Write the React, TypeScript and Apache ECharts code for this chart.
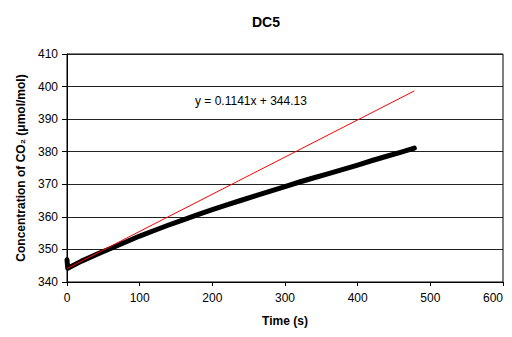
import React, { useEffect, useRef } from "react";
import * as echarts from "echarts";

const timeS = [0, 1, 20, 40, 60, 80, 100, 120, 140, 160, 180, 200, 220, 240, 260, 280, 300, 320, 340, 360, 380, 400, 420, 440, 460, 478];
const co2 = [346.8, 344.2, 346.4, 348.4, 350.3, 352.2, 354.1, 355.8, 357.5, 359.1, 360.7, 362.2, 363.7, 365.1, 366.5, 367.9, 369.3, 370.7, 372.0, 373.3, 374.6, 375.9, 377.3, 378.6, 379.9, 381.1];
const trendX = [0, 478];
const trendY = [344.13, 398.67];
const equationLabel = "y = 0.1141x + 344.13";
const titleText = "DC5";
const xName = "Time (s)";
const yName = "Concentration of CO\u2082 (\u03bcmol/mol)";

export default function App() {
  const ref = useRef<HTMLDivElement>(null);
  useEffect(() => {
    if (!ref.current) return;
    const chart = echarts.init(ref.current, null, { renderer: "svg" });
    const font = "Liberation Sans, Arial, sans-serif";
    chart.setOption({
      animation: false,
      backgroundColor: "#fff",
      textStyle: { fontFamily: font },
      title: {
        text: titleText,
        left: 261,
        top: 10,
        textAlign: "center",
        textStyle: { fontFamily: font, fontSize: 14, fontWeight: "bold", color: "#000" },
      },
      grid: {
        left: 67,
        right: 9,
        top: 54,
        bottom: 55,
        containLabel: false,
        outerBoundsMode: "none",
        show: true,
        borderColor: "#000",
        borderWidth: 1,
        backgroundColor: "#fff",
      },
      xAxis: {
        type: "value",
        min: 0,
        max: 600,
        interval: 100,
        name: xName,
        nameLocation: "middle",
        nameGap: 33,
        nameTextStyle: { fontFamily: font, fontSize: 12, fontWeight: "bold", color: "#000" },
        axisLine: { show: true, lineStyle: { color: "#000", width: 1 } },
        axisTick: { show: true, inside: false, length: 4, lineStyle: { color: "#000" } },
        axisLabel: {
          fontFamily: font,
          fontSize: 12,
          color: "#000",
          margin: 10,
          alignMaxLabel: "right",
        },
        splitLine: { show: false },
      },
      yAxis: {
        type: "value",
        min: 340,
        max: 410,
        interval: 10,
        name: yName,
        nameLocation: "middle",
        nameGap: 40,
        nameTextStyle: { fontFamily: font, fontSize: 12, fontWeight: "bold", color: "#000" },
        axisLine: { show: true, lineStyle: { color: "#000", width: 1 } },
        axisTick: { show: true, inside: false, length: 5, lineStyle: { color: "#000" } },
        axisLabel: { fontFamily: font, fontSize: 12, color: "#000", margin: 9 },
        splitLine: { show: true, lineStyle: { color: "#222", width: 1 } },
      },
      graphic: [
        {
          type: "text",
          left: 195,
          top: 95,
          style: { text: equationLabel, font: `12px ${font}`, fill: "#000" },
        },
      ],
      series: [
        {
          type: "line",
          data: timeS.map((t, i) => [t, co2[i]]),
          showSymbol: false,
          lineStyle: { color: "#000", width: 5, cap: "round", join: "round" },
          z: 2,
        },
        {
          type: "line",
          data: trendX.map((t, i) => [t, trendY[i]]),
          showSymbol: false,
          lineStyle: { color: "#ff0000", width: 1 },
          z: 3,
        },
      ],
    });
    return () => chart.dispose();
  }, []);
  return <div ref={ref} style={{ width: 512, height: 337, margin: -8 }} />;
}
